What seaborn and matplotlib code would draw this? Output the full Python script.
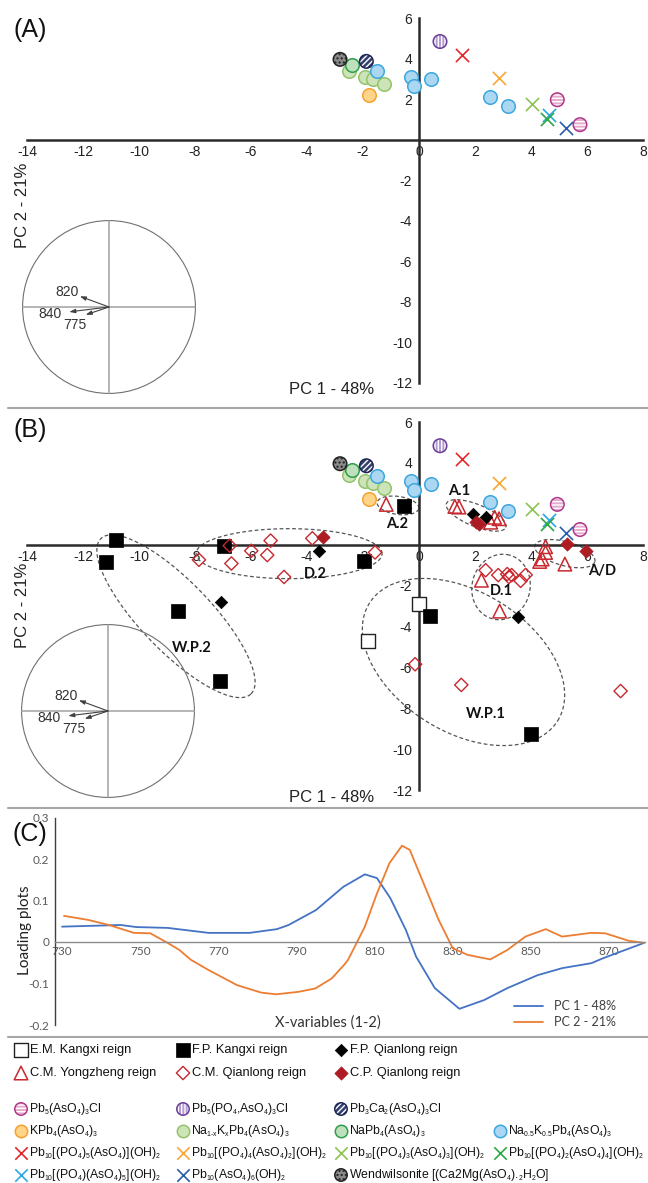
import numpy as np
import pandas as pd
import matplotlib
matplotlib.use("Agg")
import matplotlib.pyplot as plt
from matplotlib.patches import Circle
from matplotlib.lines import Line2D
from matplotlib import font_manager
import seaborn as sns

try:
    import matplotlib._mathtext as _mt
    _mt.SHRINK_FACTOR = 0.55
except Exception:
    pass

sns.set_style("white")
_names = {f.name for f in font_manager.fontManager.ttflist}
NARROW = "Liberation Sans Narrow" in _names
plt.rcParams["font.family"] = ["Liberation Sans", "DejaVu Sans"]
plt.rcParams["axes.unicode_minus"] = False
plt.rcParams["mathtext.default"] = "regular"
plt.rcParams["hatch.linewidth"] = 1.0

# ---------------------------------------------------------------- data
# reference minerals (PC1, PC2)
ref_mineral = ["na1xk", "na1xk", "na1xk", "na1xk", "pb3ca2", "napb4", "wend",
               "na05k05", "na05k05", "na05k05", "na05k05", "na05k05", "na05k05",
               "kpb4", "pb5pcl", "pb5cl", "pb5cl",
               "x_p5", "x_p4", "x_p3", "x_p1", "x_p2", "x_p0"]
ref_pc1 = [-2.50, -1.94, -1.64, -1.24, -1.88, -2.38, -2.82,
           -1.51, -0.28, -0.17, 0.42, 2.54, 3.18,
           -1.79, 0.75, 4.94, 5.75,
           1.55, 2.86, 4.05, 4.64, 4.58, 5.24]
ref_pc2 = [3.41, 3.09, 3.00, 2.76, 3.86, 3.66, 3.96,
           3.38, 3.09, 2.65, 2.97, 2.10, 1.64,
           2.22, 4.84, 1.97, 0.74,
           4.19, 3.04, 1.74, 1.23, 1.00, 0.58]

# samples (panel B)
samp_group = (["EMK"] * 2 + ["FPK"] * 9 + ["FPQ"] * 5 + ["CMY"] * 13 +
              ["CMQ"] * 19 + ["CPQ"] * 5)
samp_pc1 = [0.00, -1.81,
            -0.54, -10.83, -11.17, -6.96, -1.96, -8.60, -7.12, 0.38, 3.99,
            1.93, 2.40, -3.57, -7.08, 3.54,
            -1.17, 1.28, 1.43, 2.56, 2.70, 2.86, 4.52, 4.52, 4.40, 4.31, 5.21, 2.23, 2.88,
            -1.57, -6.76, -7.86, -6.70, -5.99, -5.30, -5.42, -4.82, -3.81,
            2.38, 2.83, 3.15, 3.21, 3.31, 3.63, 3.81, -0.14, 1.51, 7.20,
            2.03, 2.14, -3.43, 5.27, 5.95]
samp_pc2 = [-2.92, -4.69,
            1.87, 0.23, -0.87, -0.05, -0.79, -3.25, -6.66, -3.50, -9.25,
            1.48, 1.34, -0.30, -2.79, -3.55,
            1.97, 1.87, 1.84, 1.10, 1.34, 1.27, -0.10, -0.38, -0.70, -0.82, -0.95, -1.74, -3.25,
            -0.38, -0.05, -0.74, -0.92, -0.30, 0.20, -0.51, -1.58, 0.31,
            -1.25, -1.49, -1.44, -1.58, -1.49, -1.77, -1.48, -5.85, -6.86, -7.16,
            1.10, 1.02, 0.36, 0.03, -0.33]

# group ellipses (panel B): centre in data units, semi-axes in pixels, angle in deg
ell_label = ["W.P.2", "D.2", "A.2", "A.1", "A/D", "D.1", "W.P.1"]
ell_cx = [-8.68, -4.64, -0.75, 2.04, 5.21, 2.93, 1.59]
ell_cy = [-3.50, -0.44, 1.92, 1.43, -0.44, -2.07, -5.74]
ell_a = [108, 93, 21, 32, 31, 33, 111]
ell_b = [35, 25, 9, 11, 12, 29, 70]
ell_ang = [-46, 0, -8, -22, -15, 75, -32]
lab_x = [-8.10, -3.71, -0.79, 1.45, 6.54, 2.93, 2.39]
lab_y = [-5.07, -1.43, 0.99, 2.62, -1.28, -2.27, -8.28]

# loading vectors in the correlation circle
load_name = ["820", "840", "775"]
load_x = [-0.337, -0.46, -0.27]
load_y = [0.124, -0.056, -0.09]
load_lx = [-0.49, -0.685, -0.39]
load_ly = [0.17, -0.08, -0.21]

# panel C loadings
pc1_wn = [730, 745, 749, 757, 767.5, 778, 785, 788, 795, 802, 807.5, 810.6, 814,
          818, 820.6, 825.4, 831.7, 838, 844, 851.7, 858, 865.5, 868.5, 879]
pc1_load = [0.037, 0.041, 0.036, 0.034, 0.022, 0.022, 0.031, 0.041, 0.077, 0.133,
            0.163, 0.154, 0.106, 0.029, -0.035, -0.111, -0.161, -0.140, -0.111,
            -0.080, -0.063, -0.051, -0.039, -0.002]
pc2_wn = [730.5, 736.8, 742, 748.4, 752.6, 757, 760, 763, 767.4, 774.8, 781, 784.8,
          790.6, 794.8, 799, 802.2, 803.2, 807.5, 810.6, 813.8, 817, 819, 822.2,
          826.4, 830, 833.8, 839.6, 844, 848.6, 853.8, 858, 865.4, 869, 875, 879]
pc2_load = [0.063, 0.053, 0.041, 0.022, 0.021, -0.002, -0.019, -0.043, -0.067,
            -0.104, -0.122, -0.126, -0.120, -0.112, -0.088, -0.055, -0.043, 0.037,
            0.117, 0.190, 0.232, 0.222, 0.149, 0.053, -0.015, -0.031, -0.042,
            -0.019, 0.013, 0.031, 0.013, 0.022, 0.021, 0.003, -0.002]

x_ticks = list(range(-14, 9, 2))
y_ticks = [-12, -10, -8, -6, -4, -2, 2, 4, 6]
c_xticks = list(range(730, 871, 20))
c_yticks = [-0.2, -0.1, 0, 0.1, 0.2, 0.3]

# ---------------------------------------------------------------- styles
REF_STYLE = {
    "pb5cl": dict(kind="o", face="#e6abcd", edge="#b0378a", hatch="-----", hcol="white"),
    "pb5pcl": dict(kind="o", face="#b39bd3", edge="#6b3e98", hatch="|||||", hcol="white"),
    "pb3ca2": dict(kind="o", face="#34416f", edge="#1d2650", hatch="//////", hcol="white"),
    "kpb4": dict(kind="o", face="#ffd58a", edge="#f4a230"),
    "na1xk": dict(kind="o", face="#cde3b8", edge="#92c46c"),
    "napb4": dict(kind="o", face="#bfe0bd", edge="#2f9e4c"),
    "na05k05": dict(kind="o", face="#acd7f3", edge="#3ca7de"),
    "wend": dict(kind="o", face="#8a8a8a", edge="#222222", hatch="....", hcol="#222222"),
    "x_p5": dict(kind="x", edge="#e5262b"),
    "x_p4": dict(kind="x", edge="#f7a733"),
    "x_p3": dict(kind="x", edge="#8dc350"),
    "x_p2": dict(kind="x", edge="#2da843"),
    "x_p1": dict(kind="x", edge="#2aa8e0"),
    "x_p0": dict(kind="x", edge="#2a5caa"),
}
REF_ORDER = ["na1xk", "napb4", "pb3ca2", "wend", "na05k05", "kpb4", "pb5pcl",
             "pb5cl", "x_p5", "x_p4", "x_p3", "x_p1", "x_p2", "x_p0"]

SAMP_STYLE = {
    "EMK": dict(marker="s", face="white", edge="#222222", s=95, lw=1.0),
    "FPK": dict(marker="s", face="black", edge="black", s=95, lw=0.5),
    "FPQ": dict(marker="D", face="black", edge="black", s=40, lw=0.5),
    "CMY": dict(marker="^", face="none", edge="#c8282e", s=95, lw=1.1),
    "CMQ": dict(marker="D", face="none", edge="#c8282e", s=46, lw=1.0),
    "CPQ": dict(marker="D", face="#ad1c22", edge="#ad1c22", s=46, lw=0.5),
}

ref_df = pd.DataFrame({"pc1": ref_pc1, "pc2": ref_pc2, "mineral": ref_mineral})
samp_df = pd.DataFrame({"pc1": samp_pc1, "pc2": samp_pc2, "group": samp_group})

W, H = 648, 1183
fig = plt.figure(figsize=(W / 100, H / 100), dpi=100)


def box(x0, y0, x1, y1):
    return [x0 / W, 1 - y1 / H, (x1 - x0) / W, (y1 - y0) / H]


def draw_ref(ax, x, y, key, s_o=95, s_x=90):
    st = REF_STYLE[key]
    if st["kind"] == "x":
        sns.scatterplot(x=x, y=y, ax=ax, marker="x", color=st["edge"], s=s_x,
                        linewidth=1.2, zorder=3, legend=False)
        return
    if "hatch" in st:
        sns.scatterplot(x=x, y=y, ax=ax, marker="o", color=st["face"],
                        edgecolor=st["hcol"], linewidth=0, hatch=st["hatch"],
                        s=s_o, zorder=3, legend=False)
        sns.scatterplot(x=x, y=y, ax=ax, marker="o", color="none",
                        edgecolor=st["edge"], linewidth=1.1, s=s_o, zorder=3,
                        legend=False)
    else:
        sns.scatterplot(x=x, y=y, ax=ax, marker="o", color=st["face"],
                        edgecolor=st["edge"], linewidth=1.1, s=s_o, zorder=3,
                        legend=False)


def draw_samp(ax, x, y, key, scale=1.0):
    st = SAMP_STYLE[key]
    sns.scatterplot(x=x, y=y, ax=ax, marker=st["marker"], color=st["face"],
                    edgecolor=st["edge"], linewidth=st["lw"], s=st["s"] * scale,
                    zorder=4, legend=False)


def setup_pca(ax):
    ax.set_xlim(-14, 8)
    ax.set_ylim(-12, 6)
    ax.set_facecolor("none")
    for side in ["top", "right"]:
        ax.spines[side].set_visible(False)
    for side in ["left", "bottom"]:
        ax.spines[side].set_position(("data", 0))
        ax.spines[side].set_color("#2b2b2b")
        ax.spines[side].set_linewidth(1.8)
        ax.spines[side].set_zorder(2)
    ax.set_xticks(x_ticks)
    ax.set_xticklabels([str(v) for v in x_ticks])
    ax.set_yticks(y_ticks)
    ax.set_yticklabels([str(v) for v in y_ticks])
    ax.tick_params(axis="both", length=0, labelsize=10, colors="#222222")
    ax.tick_params(axis="x", pad=4)
    ax.tick_params(axis="y", pad=5)
    ax.set_xlabel("")
    ax.set_ylabel("")


def draw_refs(ax):
    for key in REF_ORDER:
        sub = ref_df[ref_df["mineral"] == key]
        draw_ref(ax, sub["pc1"].tolist(), sub["pc2"].tolist(), key)


def circle_inset(rect):
    ai = fig.add_axes(rect)
    ai.set_xlim(-1.03, 1.03)
    ai.set_ylim(-1.03, 1.03)
    ai.axis("off")
    ai.add_patch(Circle((0, 0), 1, fill=False, ec="#707070", lw=0.8))
    ai.plot([-1, 1], [0, 0], color="#a8a8a8", lw=1.2)
    ai.plot([0, 0], [-1, 1], color="#a8a8a8", lw=1.2)
    for n, vx, vy, tx, ty in zip(load_name, load_x, load_y, load_lx, load_ly):
        ai.annotate("", xy=(vx, vy), xytext=(0, 0),
                    arrowprops=dict(arrowstyle="-|>,head_length=0.35,head_width=0.12",
                                    color="#404040", lw=0.8, shrinkA=0, shrinkB=0))
        ai.text(tx, ty, n, fontsize=10, color="#333333", ha="center", va="center")


# ---------------------------------------------------------------- panel A
axA = fig.add_axes(box(27, 18, 643, 383))
setup_pca(axA)
draw_refs(axA)
circle_inset(box(20, 218, 198, 396))

# ---------------------------------------------------------------- panel B
axB = fig.add_axes(box(27, 422, 643, 790))
setup_pca(axB)
draw_refs(axB)
for key in ["EMK", "FPK", "CMQ", "CMY", "FPQ", "CPQ"]:
    sub = samp_df[samp_df["group"] == key]
    draw_samp(axB, sub["pc1"].tolist(), sub["pc2"].tolist(), key)

p0 = axB.transData.transform((0, 0))
p1 = axB.transData.transform((1, 1))
sx, sy = p1[0] - p0[0], p1[1] - p0[1]
t = np.linspace(0, 2 * np.pi, 240)
for cx, cy, a, b, ang in zip(ell_cx, ell_cy, ell_a, ell_b, ell_ang):
    th = np.deg2rad(ang)
    u, v = a * np.cos(t), b * np.sin(t)
    X = u * np.cos(th) - v * np.sin(th)
    Y = u * np.sin(th) + v * np.cos(th)
    axB.plot(cx + X / sx, cy + Y / sy, color="#555555", lw=0.9,
             ls=(0, (3, 2)), zorder=2)
for lab, lx, ly in zip(ell_label, lab_x, lab_y):
    axB.text(lx, ly, lab, fontsize=10.5, fontweight="bold", family=["Lato", "DejaVu Sans"],
             ha="center", va="center", color="#111111", zorder=5)
circle_inset(box(19, 622, 197, 800))

# axis titles for A & B
for yc_pc2, yc_pc1 in [(205, 390), (605, 798)]:
    fig.text(23 / W, 1 - yc_pc2 / H, "PC 2 - 21%", rotation=90, fontsize=12,
             ha="center", va="center", color="#222222")
    fig.text(332 / W, 1 - yc_pc1 / H, "PC 1 - 48%", fontsize=12,
             ha="center", va="center", color="#222222")

# ---------------------------------------------------------------- panel C
axC = fig.add_axes(box(55, 817.5, 645, 1025))
sns.lineplot(x=pc1_wn, y=pc1_load, ax=axC, color="#4472c4", lw=1.3,
             sort=False, estimator=None, label="PC 1 - 48%")
sns.lineplot(x=pc2_wn, y=pc2_load, ax=axC, color="#ed7d31", lw=1.3,
             sort=False, estimator=None, label="PC 2 - 21%")
axC.set_xlim(728.2, 879.2)
axC.set_ylim(-0.2, 0.3)
axC.set_facecolor("none")
for side in ["top", "right"]:
    axC.spines[side].set_visible(False)
axC.spines["bottom"].set_position(("data", 0))
axC.spines["bottom"].set_color("#8a8a8a")
axC.spines["bottom"].set_linewidth(1.0)
axC.spines["left"].set_color("#404040")
axC.spines["left"].set_linewidth(1.0)
axC.set_xticks(c_xticks)
axC.set_xticklabels([str(v) for v in c_xticks])
axC.set_yticks(c_yticks)
axC.set_yticklabels(["-0.2", "-0.1", "0", "0.1", "0.2", "0.3"])
axC.tick_params(axis="both", length=0, labelsize=8.5, colors="#595959")
axC.tick_params(axis="x", pad=3)
axC.tick_params(axis="y", pad=4)
for lbl in axC.get_xticklabels() + axC.get_yticklabels():
    lbl.set_family(["Lato", "DejaVu Sans"])
axC.set_xlabel("")
axC.set_ylabel("")
leg = axC.legend(loc="upper left", bbox_to_anchor=(514 / W, 1 - 1000 / H),
                 bbox_transform=fig.transFigure, frameon=False, fontsize=9,
                 handlelength=2.3, handletextpad=0.9, labelspacing=0.35,
                 borderpad=0, borderaxespad=0)
for txt in leg.get_texts():
    txt.set_family(["Lato", "DejaVu Sans"])
    txt.set_color("#404040")
fig.text(328 / W, 1 - 1023 / H, "X-variables (1-2)", fontsize=10.5,
         family=["Lato", "DejaVu Sans"], ha="center", va="center", color="#333333")
fig.text(25 / W, 1 - 930 / H, "Loading plots", fontsize=11, rotation=90,
         family=["Lato", "DejaVu Sans"], ha="center", va="center", color="#222222")

# panel letters and separators
for lab, yc in [("(A)", 30), ("(B)", 430), ("(C)", 834)]:
    fig.text(30 / W, 1 - yc / H, lab, fontsize=18, ha="center", va="center",
             color="#111111")
for yl in [408, 808, 1037]:
    fig.add_artist(Line2D([8 / W, 1], [1 - yl / H] * 2, color="#a6a6a6", lw=1.5))

# ---------------------------------------------------------------- legend
axL = fig.add_axes([0, 0, 1, (H - 1039) / H])
axL.set_xlim(0, W)
axL.set_ylim(H, 1039)
axL.axis("off")
lfam = ["Liberation Sans Narrow", "Liberation Sans", "DejaVu Sans"] if NARROW else ["Liberation Sans", "DejaVu Sans"]
lsize = 10.5 if NARROW else 9.3
msize = 10.0 if NARROW else 8.8

samp_leg = [("EMK", "E.M. Kangxi reign", 21, 1050), ("FPK", "F.P. Kangxi reign", 183, 1050),
            ("FPQ", "F.P. Qianlong reign", 341, 1050),
            ("CMY", "C.M. Yongzheng reign", 21, 1073), ("CMQ", "C.M. Qianlong reign", 183, 1073),
            ("CPQ", "C.P. Qianlong reign", 341, 1073)]
for key, text, mx, my in samp_leg:
    draw_samp(axL, [mx], [my], key, scale=1.0)
    axL.text(mx + 9, my, text, fontsize=lsize, family=lfam, ha="left", va="center",
             color="#111111")

ref_leg = [
    ("pb5cl", r"Pb$_5$(AsO$_4$)$_3$Cl", 21, 1109),
    ("pb5pcl", r"Pb$_5$(PO$_4$,AsO$_4$)$_3$Cl", 183, 1109),
    ("pb3ca2", r"Pb$_3$Ca$_2$(AsO$_4$)$_3$Cl", 341, 1109),
    ("kpb4", r"KPb$_4$(AsO$_4$)$_3$", 21, 1131),
    ("na1xk", r"Na$_{1\text{-}x}$K$_x$Pb$_4$(AsO$_4$)$_3$", 183, 1131),
    ("napb4", r"NaPb$_4$(AsO$_4$)$_3$", 341, 1131),
    ("na05k05", r"Na$_{0.5}$K$_{0.5}$Pb$_4$(AsO$_4$)$_3$", 500, 1131),
    ("x_p5", r"Pb$_{10}$[(PO$_4$)$_5$(AsO$_4$)](OH)$_2$", 21, 1153),
    ("x_p4", r"Pb$_{10}$[(PO$_4$)$_4$(AsO$_4$)$_2$](OH)$_2$", 183, 1153),
    ("x_p3", r"Pb$_{10}$[(PO$_4$)$_3$(AsO$_4$)$_3$](OH)$_2$", 341, 1153),
    ("x_p2", r"Pb$_{10}$[(PO$_4$)$_2$(AsO$_4$)$_4$](OH)$_2$", 500, 1153),
    ("x_p1", r"Pb$_{10}$[(PO$_4$)(AsO$_4$)$_5$](OH)$_2$", 21, 1175),
    ("x_p0", r"Pb$_{10}$(AsO$_4$)$_6$(OH)$_2$", 183, 1175),
    ("wend", r"Wendwilsonite [(Ca2Mg(AsO$_4$).$_2$H$_2$O]", 341, 1175),
]
for key, text, mx, my in ref_leg:
    draw_ref(axL, [mx], [my], key, s_o=80, s_x=80)
    axL.text(mx + 8, my, text, fontsize=msize, family=lfam, ha="left", va="center",
             color="#111111")

fig.savefig("out.png", dpi=100)
